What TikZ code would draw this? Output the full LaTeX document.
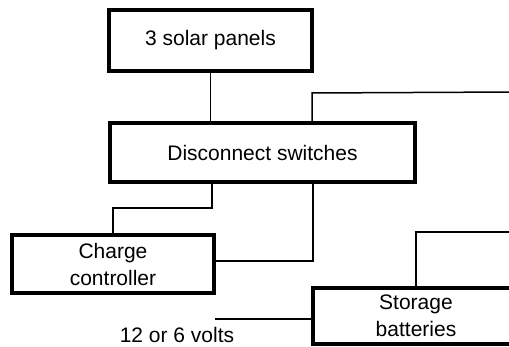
\documentclass[tikz,border=0pt]{standalone}
\usepackage{fontspec}
\setmainfont{Liberation Sans}
\begin{document}
\begin{tikzpicture}[x=1pt,y=-1pt,
  box/.style={draw=black, line width=3.2pt, fill=white, inner sep=0pt, align=center,
    font=\fontsize{21}{27}\selectfont},
  wire/.style={draw=black, line width=1.5pt},
  lbl/.style={inner sep=0pt, font=\fontsize{21}{27}\selectfont}]
\clip (0,0) rectangle (509,347);
\fill[white] (0,0) rectangle (509,347);
\node[box, minimum width=203pt, minimum height=61pt] (solar) at (210.5,40.5) {3 solar panels};
\node[box, minimum width=305pt, minimum height=59pt] (disc) at (262.5,152.5) {Disconnect switches};
\node[box, minimum width=202pt, minimum height=58pt] (charge) at (113,264) {Charge\\controller};
\node[box, minimum width=206pt, minimum height=56pt] (stor) at (416,316) {Storage\\batteries};
\node[lbl] (volts) at (177,335) {12 or 6 volts};
\coordinate (t1) at (312,93);
\coordinate (t2) at (515,92);
\coordinate (b1) at (212,208);
\coordinate (b2) at (313,261);
\coordinate (t3) at (515,232);
\coordinate (v) at (215,319);
\draw[wire] (solar.south) -- (solar.south |- disc.north);
\draw[wire] (disc.north -| t1) -- (t1) -- (t2);
\draw[wire] (disc.south -| b1) -- (b1) -| (charge.north);
\draw[wire] (disc.south -| b2) -- (b2) -- (b2 -| charge.east);
\draw[wire] (stor.north) |- (t3);
\draw[wire] (v) -- (v -| stor.west);
\end{tikzpicture}
\end{document}
